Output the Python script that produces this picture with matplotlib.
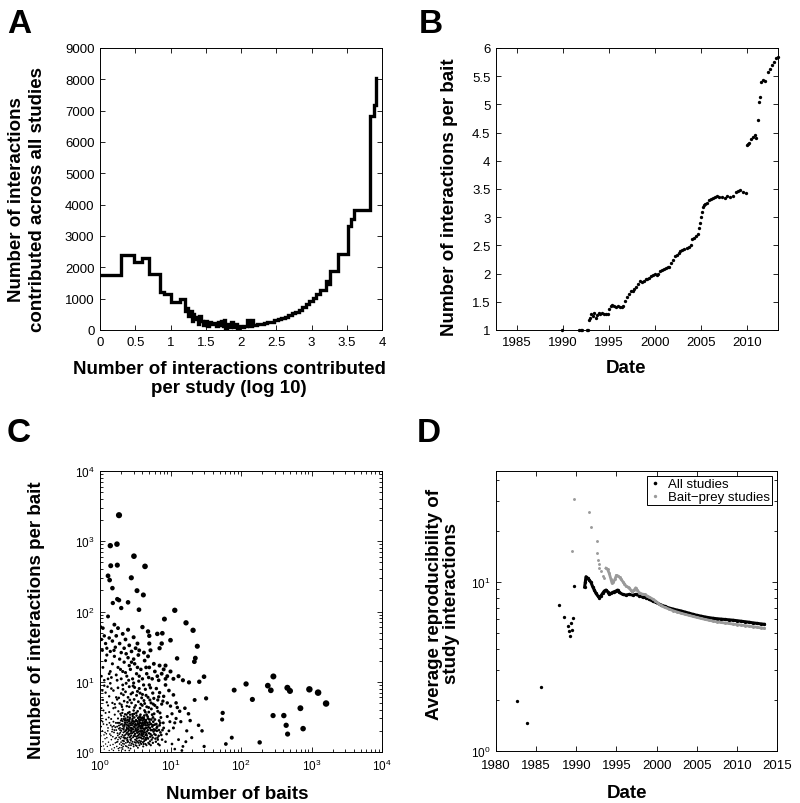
import numpy as np
import matplotlib
matplotlib.use("Agg")
import matplotlib.pyplot as plt
from matplotlib.ticker import LogLocator, NullFormatter, FixedLocator, FixedFormatter

plt.rcParams["font.family"] = "Liberation Sans"
plt.rcParams["mathtext.fontset"] = "custom"
plt.rcParams["mathtext.rm"] = "Liberation Sans"
plt.rcParams["mathtext.it"] = "Liberation Sans:italic"
plt.rcParams["mathtext.bf"] = "Liberation Sans:bold"

# --- A: interactions contributed vs study size (log10), staircase
a_logsize = [0, 0.301, 0.477, 0.602, 0.699, 0.845, 0.903, 1.0, 1.13, 1.2, 1.23, 1.255, 1.28, 1.30,
             1.32, 1.34, 1.36, 1.39, 1.41, 1.43, 1.46, 1.49, 1.52, 1.55, 1.58, 1.61, 1.64, 1.67,
             1.70, 1.72, 1.74, 1.76, 1.78, 1.80, 1.83, 1.86, 1.88, 1.91, 1.94, 1.97, 2.0, 2.04,
             2.08, 2.11, 2.15, 2.17, 2.22, 2.27, 2.32, 2.37, 2.42, 2.47, 2.52, 2.57, 2.62, 2.67,
             2.72, 2.77, 2.82, 2.87, 2.92, 2.97, 3.02, 3.07, 3.12, 3.21, 3.24, 3.26, 3.37, 3.52,
             3.56, 3.60, 3.83, 3.88, 3.92]
a_total = [1750, 2400, 2180, 2300, 1800, 1220, 1150, 880, 980, 620, 700, 450, 600, 300,
           500, 350, 420, 200, 450, 300, 150, 280, 120, 250, 180, 230, 130, 240,
           160, 300, 120, 320, 60, 200, 90, 260, 80, 180, 60, 120, 100, 120,
           310, 130, 320, 160, 180, 200, 220, 250, 270, 310, 340, 380, 420, 470,
           530, 590, 650, 730, 820, 920, 1030, 1150, 1270, 1550, 1480, 1890, 2420, 3330,
           3550, 3820, 6840, 7180, 8050]
a_xticks = [0, 0.5, 1, 1.5, 2, 2.5, 3, 3.5, 4]
a_xticklabels = ["0", "0.5", "1", "1.5", "2", "2.5", "3", "3.5", "4"]

# --- B: interactions per bait over time
b_date = [1989.9, 1991.8, 1991.95, 1992.1, 1992.6, 1992.75,
          1992.9, 1993.0, 1993.1, 1993.25, 1993.4, 1993.6, 1993.7, 1993.9, 1994.1, 1994.3,
          1994.5, 1994.7, 1994.9, 1995.0, 1995.2, 1995.4, 1995.6, 1995.8, 1996.0, 1996.2,
          1996.4, 1996.6, 1996.8, 1997.0, 1997.2, 1997.4, 1997.6, 1997.8, 1998.0, 1998.2,
          1998.4, 1998.6, 1998.8, 1999.0, 1999.2, 1999.4, 1999.6, 1999.8, 2000.0, 2000.2,
          2000.4, 2000.6, 2000.8, 2001.0, 2001.2, 2001.4, 2001.6, 2001.8, 2002.0, 2002.2,
          2002.4, 2002.6, 2002.8, 2003.0, 2003.2, 2003.5, 2003.7, 2003.9, 2004.1, 2004.3,
          2004.5, 2004.7, 2004.8, 2004.9, 2005.0, 2005.1, 2005.2, 2005.35, 2005.5, 2005.7,
          2005.9, 2006.1, 2006.3, 2006.5, 2006.8, 2007.0, 2007.3, 2007.6, 2007.9, 2008.2,
          2008.5, 2008.8, 2009.1, 2009.3, 2009.6, 2009.9,
          2010.0, 2010.15, 2010.3, 2010.5, 2010.7, 2010.9, 2011.05, 2011.2, 2011.35, 2011.45,
          2011.6, 2011.8, 2012.0, 2012.3, 2012.5, 2012.7, 2013.0, 2013.2, 2013.35]
b_ratio = [1.0, 1.0, 1.0, 1.0, 1.0, 1.0,
           1.17, 1.22, 1.28, 1.25, 1.30, 1.22, 1.27, 1.30, 1.29, 1.31,
           1.28, 1.29, 1.28, 1.37, 1.43, 1.44, 1.42, 1.40, 1.42, 1.41,
           1.40, 1.42, 1.52, 1.58, 1.63, 1.70, 1.70, 1.73, 1.77, 1.82,
           1.86, 1.85, 1.87, 1.90, 1.91, 1.93, 1.95, 1.97, 1.99, 1.98,
           2.00, 2.04, 2.07, 2.09, 2.10, 2.11, 2.12, 2.18, 2.24, 2.31,
           2.33, 2.36, 2.40, 2.42, 2.44, 2.46, 2.47, 2.50, 2.62, 2.64,
           2.67, 2.70, 2.80, 2.90, 3.00, 3.10, 3.18, 3.22, 3.24, 3.26,
           3.30, 3.32, 3.34, 3.36, 3.37, 3.36, 3.35, 3.34, 3.37, 3.36,
           3.38, 3.44, 3.46, 3.48, 3.45, 3.43,
           4.28, 4.30, 4.32, 4.38, 4.42, 4.45, 4.40, 4.72, 5.05, 5.14,
           5.40, 5.44, 5.42, 5.58, 5.62, 5.70, 5.76, 5.82, 5.84]
b_yticks = [1, 1.5, 2, 2.5, 3, 3.5, 4, 4.5, 5, 5.5, 6]
b_yticklabels = ["1", "1.5", "2", "2.5", "3", "3.5", "4", "4.5", "5", "5.5", "6"]

# --- C: baits per study vs interactions per bait (x, y pairs)
c_small = [
    (1.02, 1.05), (1.05, 1.2), (1.1, 1.4), (1.03, 1.7), (1.08, 2.0), (1.15, 1.1), (1.2, 1.3),
    (1.25, 1.6), (1.18, 1.9), (1.3, 2.2), (1.12, 2.5), (1.22, 2.9), (1.06, 3.3), (1.35, 1.05),
    (1.4, 1.25), (1.45, 1.5), (1.38, 1.8), (1.5, 2.1), (1.42, 2.4), (1.55, 2.7), (1.33, 3.1),
    (1.6, 1.15), (1.65, 1.35), (1.7, 1.6), (1.58, 1.9), (1.75, 2.3), (1.68, 2.6), (1.8, 3.0),
    (1.62, 3.4), (1.85, 1.05), (1.9, 1.3), (1.95, 1.55), (1.88, 1.8), (2.0, 2.0), (1.92, 2.2),
    (2.05, 2.5), (1.98, 2.8), (2.1, 1.1), (2.15, 1.45), (2.2, 1.7), (2.25, 1.95), (2.12, 2.35),
    (2.3, 2.6), (2.2, 3.2), (2.4, 1.2), (2.45, 1.5), (2.5, 1.8), (2.38, 2.1), (2.55, 2.4),
    (2.6, 1.05), (2.65, 1.35), (2.7, 1.65), (2.75, 2.0), (2.62, 2.75), (1.01, 1.5), (1.04, 2.3),
    (1.09, 2.7), (1.14, 1.75), (1.27, 1.2), (1.29, 2.0), (1.47, 1.1), (1.52, 1.65), (1.57, 2.35),
    (1.73, 1.2), (1.77, 1.85), (1.83, 2.6), (2.02, 1.25), (2.08, 1.75), (2.18, 2.2), (2.33, 1.35),
    (2.42, 1.9), (2.48, 2.9), (2.58, 1.25), (2.68, 2.2), (1.2, 3.6), (1.44, 2.95), (1.7, 2.05),
    (1.95, 3.5), (2.28, 1.05), (2.52, 1.15),
    (1.8, 1.5), (1.9, 2.6), (2.0, 3.3), (2.1, 4.0), (2.2, 1.3), (2.3, 2.0), (2.4, 2.8),
    (2.5, 3.6), (2.6, 4.4), (2.7, 1.5), (2.8, 2.2), (2.9, 3.0), (3.0, 1.2), (3.0, 3.9),
    (3.1, 1.8), (3.2, 2.5), (3.3, 3.3), (3.4, 1.4), (3.5, 2.1), (3.6, 2.9), (3.7, 4.2),
    (3.8, 1.6), (3.9, 2.4), (4.0, 3.1), (4.1, 1.2), (4.2, 1.9), (4.3, 2.7), (4.4, 3.7),
    (4.5, 1.5), (4.6, 2.2), (4.8, 3.0), (4.9, 4.3), (5.0, 1.3), (5.2, 1.8), (5.3, 2.5),
    (5.5, 3.4), (5.6, 1.6), (5.8, 2.1), (6.0, 2.9), (6.2, 1.4), (6.4, 2.0), (6.6, 3.8),
    (6.8, 1.7), (7.0, 2.4), (7.3, 3.1), (7.6, 1.5), (8.0, 2.2), (2.05, 1.15), (2.15, 1.9),
    (2.35, 2.45), (2.45, 1.6), (2.55, 2.05), (2.65, 3.1), (2.75, 1.25), (2.85, 1.85),
    (2.95, 2.55), (3.05, 3.5), (3.15, 1.5), (3.25, 2.0), (3.35, 2.75), (3.45, 1.15),
    (3.55, 1.75), (3.65, 2.35), (3.75, 3.4), (3.85, 1.3), (3.95, 2.0), (4.05, 2.6),
    (4.15, 1.55), (4.25, 3.3), (4.35, 2.15), (4.55, 1.8), (4.7, 2.6), (4.85, 1.35),
    (5.1, 2.2), (5.4, 1.5), (5.7, 2.7), (5.9, 1.8), (6.3, 2.5), (6.7, 1.3), (7.2, 1.9),
    (2.25, 2.65), (2.6, 1.8), (2.9, 1.4), (3.1, 2.25), (3.4, 1.9), (3.7, 2.6), (4.0, 1.7),
    (4.4, 2.4), (4.7, 1.6), (5.0, 2.9), (2.0, 1.65), (2.4, 2.25), (2.8, 2.65), (3.2, 1.25),
    (3.6, 1.45), (4.2, 2.9), (2.3, 3.0), (2.7, 2.4), (3.3, 1.65), (3.9, 1.85),
    (1.55, 1.05), (1.78, 1.4), (2.22, 1.55), (2.48, 1.38), (2.72, 1.85), (2.95, 2.1),
    (3.12, 2.7), (3.28, 1.45), (3.48, 2.45), (3.62, 1.25), (3.82, 2.15), (4.02, 2.35),
    (4.22, 1.42), (4.48, 2.85), (4.62, 1.95), (4.95, 2.45), (5.15, 1.65), (5.45, 2.05),
    (5.65, 3.1), (6.1, 1.55), (6.5, 2.3), (6.9, 2.8), (7.4, 1.75), (7.9, 2.6), (8.5, 1.4),
    (9.0, 3.2), (9.5, 2.0), (2.18, 2.95), (2.38, 3.4), (2.62, 3.7), (2.88, 3.45), (3.08, 4.3),
    (3.42, 3.8), (3.72, 3.1), (3.98, 4.6), (4.28, 3.9), (4.58, 3.4), (4.92, 3.7), (5.35, 4.1),
    (5.85, 3.5), (6.45, 4.3), (7.1, 3.6), (1.62, 4.8), (1.85, 5.9), (2.15, 6.5), (2.45, 5.1),
    (2.75, 6.7), (3.05, 5.6), (3.4, 7.3), (3.9, 5.9), (4.5, 6.4), (5.1, 5.5), (5.7, 4.8),
    (6.8, 6.1), (2.12, 7.8), (2.55, 10.5), (2.95, 8.7), (3.55, 10.2), (4.15, 9.0), (4.9, 11.5),
    (1.35, 13), (1.75, 10.5), (2.3, 13.5), (2.8, 19), (3.6, 12), (4.5, 16), (5.8, 18),
    (6.8, 10.5), (8.5, 11), (1.58, 28), (2.35, 25), (3.0, 21), (1.95, 15), (1.15, 10.5),
    (1.45, 11.5), (1.08, 7.5), (1.28, 8.5), (1.02, 5.5), (1.12, 3.9), (1.35, 3.7), (1.55, 4.2),
    (1.82, 3.8), (2.02, 4.7), (1.05, 2.8), (1.25, 2.45), (1.48, 1.95), (1.65, 2.25),
    (1.85, 2.15), (2.08, 1.45), (2.28, 1.75), (2.52, 2.15), (2.78, 1.55), (3.02, 1.7),
    (3.22, 2.15), (3.52, 1.6), (3.78, 1.95), (4.12, 2.15), (4.42, 1.3), (4.78, 2.05),
    (5.25, 1.25), (5.6, 2.4), (6.05, 2.05), (6.55, 1.6), (7.0, 1.25), (7.7, 2.05), (8.8, 1.8),
    (9.8, 2.7), (10.5, 3.5), (11.5, 2.6),
    (1.82, 1.12), (1.87, 1.62), (1.93, 2.05), (1.97, 2.45), (2.03, 2.95), (2.07, 3.6),
    (2.11, 1.32), (2.14, 1.62), (2.17, 2.08), (2.21, 2.48), (2.24, 2.85), (2.27, 3.45),
    (2.31, 1.22), (2.34, 1.55), (2.37, 1.82), (2.41, 2.15), (2.44, 2.62), (2.47, 3.15),
    (2.51, 1.42), (2.54, 1.72), (2.57, 2.28), (2.61, 2.55), (2.64, 2.95), (2.67, 3.4),
    (2.71, 1.12), (2.74, 1.45), (2.77, 1.72), (2.81, 2.05), (2.84, 2.42), (2.87, 2.85),
    (2.91, 3.25), (2.94, 1.62), (2.97, 1.92), (3.01, 2.3), (3.04, 2.7), (3.07, 3.1),
    (3.11, 1.38), (3.14, 1.68), (3.17, 2.05), (3.21, 2.38), (3.24, 2.85), (3.27, 3.6),
    (3.31, 1.22), (3.34, 1.55), (3.37, 1.88), (3.41, 2.22), (3.44, 2.58), (3.47, 3.05),
    (3.51, 1.35), (3.54, 1.95), (3.57, 2.5), (3.61, 2.75), (3.64, 3.2), (3.67, 1.62),
    (3.71, 1.98), (3.74, 2.2), (3.77, 2.85), (3.81, 1.42), (3.84, 1.75), (3.87, 2.55),
    (3.91, 3.0), (3.94, 1.55), (3.97, 2.2), (4.01, 2.8), (4.06, 1.38), (4.09, 1.8),
    (4.13, 2.45), (4.18, 3.05), (4.21, 1.65), (4.26, 2.05), (4.31, 2.55), (4.36, 1.48),
    (4.41, 1.75), (4.46, 2.2), (4.51, 2.65), (4.56, 1.25), (4.61, 1.72), (4.66, 2.4),
    (4.73, 3.2), (4.81, 1.55), (4.88, 2.25), (4.96, 1.85), (5.05, 2.65), (5.12, 1.42),
    (5.22, 2.05), (5.32, 2.9), (5.42, 1.72), (5.52, 2.3), (5.62, 1.35), (5.75, 1.95),
    (5.95, 2.45), (6.15, 1.75), (6.35, 2.2), (6.6, 1.5), (6.85, 2.05), (7.15, 2.6),
    (1.12, 1.22), (1.18, 1.55), (1.23, 1.82), (1.32, 1.38), (1.36, 2.6), (1.43, 1.72),
    (1.49, 2.28), (1.53, 1.28), (1.6, 2.05), (1.64, 1.55), (1.72, 1.38), (1.76, 2.6),
    (1.79, 1.72), (1.86, 2.38), (1.91, 1.15), (1.94, 1.88), (1.99, 1.38), (2.06, 2.15),
    (2.09, 2.75), (2.13, 1.2), (2.19, 1.42), (2.23, 2.35), (2.26, 1.6), (2.32, 2.82),
    (2.36, 2.05), (2.43, 1.45), (2.46, 2.4), (2.53, 1.95), (2.56, 2.75), (2.63, 1.62),
    (2.66, 2.05), (2.73, 2.55), (2.79, 1.95), (2.83, 1.32), (2.89, 2.15), (2.93, 2.75),
    (2.98, 1.28), (3.03, 1.95), (3.09, 2.45), (3.16, 1.82), (3.23, 1.35), (3.29, 2.4),
    (3.36, 2.05), (3.43, 1.7), (3.53, 2.3), (3.63, 1.82), (3.73, 1.35), (3.83, 2.35),
    (3.93, 1.72), (4.03, 1.95), (4.16, 1.3), (4.33, 1.9), (4.47, 1.58),
    (1.05, 4.2), (1.1, 5.5), (1.2, 7.0), (1.15, 8.8), (1.3, 4.6), (1.35, 6.2), (1.4, 9.5),
    (1.5, 5.0), (1.55, 7.5), (1.65, 4.3), (1.7, 6.0), (1.8, 8.2), (1.9, 4.9), (2.0, 6.8),
    (2.1, 9.0), (2.2, 5.3), (2.3, 7.2), (2.4, 4.5), (2.5, 6.0), (2.6, 8.5), (2.8, 5.0),
    (2.9, 7.0), (3.0, 9.6), (3.2, 4.6), (3.3, 6.4), (3.5, 5.2), (3.6, 8.0), (3.8, 4.8),
    (4.0, 6.6), (4.2, 5.4), (4.4, 7.8), (4.6, 4.4), (4.8, 6.0), (5.0, 9.0), (5.3, 5.0),
    (5.6, 6.9), (6.0, 4.6), (6.3, 8.0), (6.6, 5.5), (7.0, 7.0), (7.5, 4.8), (8.0, 6.2),
    (8.5, 9.0), (9.0, 5.0), (9.5, 7.5), (10.0, 4.5), (11.0, 6.5), (12.0, 5.0), (1.25, 5.1),
    (1.45, 8.0), (1.75, 5.6), (2.05, 4.4), (2.35, 9.5), (2.65, 5.5), (3.1, 8.3), (3.7, 6.9),
    (4.3, 4.9), (5.2, 8.2), (5.8, 5.8), (7.8, 5.3),
    (1.05, 12), (1.1, 16), (1.2, 20), (1.3, 11), (1.4, 14), (1.5, 18), (1.6, 23), (1.7, 12.5),
    (1.8, 16), (2.0, 11), (2.1, 14), (2.2, 19), (2.4, 12), (2.5, 22), (2.7, 15), (2.9, 11),
    (3.1, 18), (3.3, 13), (3.5, 24), (3.8, 15), (4.0, 11), (4.3, 20), (4.6, 13), (5.0, 16),
    (5.5, 11), (6.0, 14), (6.5, 12), (7.0, 17), (7.5, 13), (8.0, 15), (9.0, 12), (10.0, 14),
    (11.0, 11), (13.0, 12), (15.0, 10.5), (1.25, 24), (1.9, 21), (2.6, 17), (3.4, 16), (4.8, 23),
    (1.02, 60), (1.05, 40), (1.08, 28), (1.1, 58), (1.15, 45), (1.2, 35), (1.25, 30), (1.3, 85),
    (1.35, 42), (1.4, 27), (1.45, 52), (1.5, 38), (1.6, 65), (1.65, 31), (1.7, 45), (1.8, 58),
    (1.9, 35), (2.0, 26), (2.1, 48), (2.2, 30), (2.3, 40), (2.5, 55), (2.6, 33), (2.8, 27),
    (3.0, 43), (3.2, 30), (3.4, 35), (3.6, 28), (4.0, 60), (4.2, 26), (4.8, 52), (5.0, 45),
    (5.0, 35), (5.2, 28), (6.5, 48), (7.0, 30), (7.5, 35), (8.5, 17),
    (10.5, 1.3), (11, 2.2), (12, 3.0), (13, 1.5), (14, 2.7), (15, 1.2), (16, 4.2), (17, 2.0),
    (18, 3.5), (20, 1.6), (22, 5.5), (25, 2.4), (28, 2.0), (30, 1.2), (14.5, 1.05), (13.5, 3.8),
    (19, 2.8), (11.5, 1.1), (12.5, 4.3), (16.5, 1.4),
]
c_large = [
    (1.86, 2350), (1.40, 865), (1.74, 910), (3.03, 613), (1.42, 448), (1.76, 457), (4.35, 439),
    (1.30, 322), (1.37, 280), (2.78, 302), (1.50, 215), (3.35, 198), (4.12, 172), (1.76, 150),
    (1.86, 145), (2.50, 135), (1.52, 132), (3.57, 106), (11.5, 104), (2.0, 112), (8.2, 78),
    (16.6, 69), (20.9, 54), (24, 32), (22.5, 21.7), (21.8, 19.3), (10, 39), (7.66, 49),
    (12.4, 21.5), (18.3, 9.8), (25.6, 10), (29.9, 11.8), (32, 5.8), (118, 9.3), (80, 7.6),
    (55, 3.6), (54, 2.9), (74, 1.6), (61, 1.3), (145, 5.6), (288, 11.9), (240, 8.8),
    (265, 7.55), (455, 8.2), (495, 7.4), (933, 7.8), (1240, 7.0), (1610, 4.9), (696, 4.2),
    (285, 3.3), (405, 3.3), (437, 2.4), (760, 2.15), (458, 1.8), (184, 1.37),
]

# --- D: average reproducibility over time
d_all_early_x = [1982.57, 1983.82, 1985.56, 1987.89, 1988.43, 1989.0, 1989.05, 1989.17,
                 1989.38, 1989.42, 1989.55, 1989.67]
d_all_early_y = [1.98, 1.47, 2.4, 7.27, 6.2, 5.5, 5.13, 4.75, 5.66, 5.17, 6.06, 9.38]
d_all_x = [1991.04, 1991.12, 1991.21, 1991.42, 1991.62, 1991.83, 1992.04, 1992.25, 1992.45,
           1992.66, 1992.87, 1993.08, 1993.28, 1993.49, 1993.70, 1993.91, 1994.11, 1994.32,
           1994.53, 1994.74, 1994.94, 1995.15, 1995.36, 1995.77, 1996.19, 1996.60, 1997.02,
           1997.43, 1997.85, 1998.26, 1998.68, 1999.10, 1999.51, 1999.93, 2000.5, 2001.0,
           2001.5, 2002.0, 2002.5, 2003.0, 2003.5, 2004.0, 2004.5, 2005.0, 2005.5, 2006.0,
           2006.5, 2007.0, 2007.5, 2008.0, 2008.5, 2009.0, 2009.5, 2010.0, 2010.5, 2011.0,
           2011.5, 2012.0, 2012.5, 2013.0, 2013.4]
d_all_y = [9.29, 9.91, 10.7, 10.46, 10.2, 9.91, 9.34, 8.92, 8.53,
           8.26, 8.04, 8.26, 8.53, 8.80, 8.92, 8.72, 8.41, 8.53,
           8.64, 8.72, 8.80, 8.92, 8.64, 8.41, 8.33, 8.41, 8.33,
           8.41, 8.26, 8.10, 8.04, 7.86, 7.68, 7.54, 7.3, 7.15,
           7.0, 6.9, 6.8, 6.72, 6.62, 6.52, 6.42, 6.33, 6.26, 6.19,
           6.13, 6.08, 6.04, 6.01, 5.98, 5.95, 5.92, 5.88, 5.84, 5.80,
           5.76, 5.71, 5.67, 5.63, 5.60]
d_bp_early_x = [1989.5, 1989.67, 1991.58, 1991.79, 1992.54, 1992.62, 1992.7, 1992.8, 1992.87,
                1993.1, 1993.3, 1993.5]
d_bp_early_y = [15.1, 30.7, 25.7, 20.9, 17.3, 14.7, 13.4, 12.7, 12.0, 11.5, 10.8, 10.5]
d_bp_x = [1993.7, 1993.9, 1994.1, 1994.3, 1994.45, 1994.6, 1994.8, 1995.0, 1995.2, 1995.4,
          1995.6, 1995.8, 1996.0, 1996.2, 1996.4, 1996.6, 1996.8, 1997.0, 1997.2, 1997.4,
          1997.6, 1997.85, 1998.2, 1998.5, 1998.8, 1999.1, 1999.5, 1999.85, 2000.2, 2000.5,
          2001.0, 2001.5, 2002.0, 2002.5, 2003.0, 2003.5, 2004.0, 2004.5, 2005.0, 2005.5,
          2006.0, 2006.5, 2007.0, 2007.5, 2008.0, 2008.5, 2009.0, 2009.5, 2010.0, 2010.5,
          2011.0, 2011.5, 2012.0, 2012.5, 2013.0, 2013.4]
d_bp_y = [12.0, 11.8, 11.2, 10.4, 9.8, 9.9, 10.3, 10.9, 10.8, 10.6,
          10.3, 10.0, 9.7, 9.4, 9.3, 9.2, 8.9, 8.7, 8.9, 9.2,
          8.9, 8.6, 8.45, 8.4, 8.25, 8.1, 7.9, 7.7, 7.45, 7.25,
          7.05, 6.9, 6.75, 6.63, 6.52, 6.42, 6.33, 6.24, 6.15, 6.07,
          5.99, 5.92, 5.85, 5.79, 5.74, 5.70, 5.66, 5.62, 5.58, 5.54,
          5.50, 5.46, 5.42, 5.38, 5.33, 5.30]
d_labels = ["All studies", "Bait\u2212prey studies"]

W, H = 800, 804
fig = plt.figure(figsize=(W / 100, H / 100), dpi=100)


def box(x0, y0, x1, y1):
    # pixel box (top-left origin) -> figure fraction
    return [x0 / W, 1 - y1 / H, (x1 - x0) / W, (y1 - y0) / H]


def style(ax, size=9.5):
    ax.tick_params(which="both", direction="in", top=True, right=True, labelsize=size,
                   width=0.6, pad=4)
    ax.tick_params(which="major", length=3.5)
    ax.tick_params(which="minor", length=2)
    for s in ax.spines.values():
        s.set_linewidth(0.7)


lab = dict(fontsize=13.5, fontweight="bold")

# A
axA = fig.add_axes(box(100, 49, 382, 331))
axA.step(a_logsize, a_total, where="post", color="k", lw=2.4, solid_joinstyle="miter")
axA.set_xlim(0, 4)
axA.set_ylim(0, 9000)
axA.set_xticks(a_xticks)
axA.set_xticklabels(a_xticklabels)
axA.set_yticks(range(0, 9001, 1000))
style(axA)
fig.text(27 / W, 1 - 200 / H, "Number of interactions\ncontributed across all studies",
         rotation=90, ha="center", va="center", linespacing=1.3, **lab)
fig.text(229 / W, 1 - 393 / H, "Number of interactions contributed\nper study (log 10)",
         ha="center", va="baseline", linespacing=1.12, **lab)

# B
axB = fig.add_axes(box(496, 49, 778, 331))
axB.plot(b_date, b_ratio, "o", ms=2.4, mew=0, color="k", clip_on=False)
axB.set_xlim(1982.75, 2013.4)
axB.set_ylim(1, 6)
axB.set_xticks([1985, 1990, 1995, 2000, 2005, 2010])
axB.set_yticks(b_yticks)
axB.set_yticklabels(b_yticklabels)
style(axB)
fig.text(449 / W, 1 - 197 / H, "Number of interactions per bait", rotation=90,
         ha="center", va="center", **lab)
fig.text(626 / W, 1 - 373 / H, "Date", ha="center", va="baseline", **lab)

# C
axC = fig.add_axes(box(100, 472, 382, 753))
cx = np.array([p[0] for p in c_small + c_large])
cy = np.array([p[1] for p in c_small + c_large])
diam = 0.8 + 1.0 * np.log10(cx * cy)   # dot size grows with interactions in the study
axC.scatter(cx, cy, s=diam ** 2, color="k", linewidths=0)
axC.set_xscale("log")
axC.set_yscale("log")
axC.set_xlim(1, 1e4)
axC.set_ylim(1, 1e4)
for a in (axC.xaxis, axC.yaxis):
    a.set_major_locator(LogLocator(base=10, numticks=10))
    a.set_minor_locator(LogLocator(base=10, subs=np.arange(2, 10), numticks=20))
    a.set_minor_formatter(NullFormatter())
style(axC, 8.5)
fig.text(37 / W, 1 - 620 / H, "Number of interactions per bait", rotation=90,
         ha="center", va="center", **lab)
fig.text(237 / W, 1 - 799 / H, "Number of baits", ha="center", va="baseline", **lab)

# D
axD = fig.add_axes(box(496, 472, 777, 752))
axD.set_yscale("log")
axD.plot(d_all_early_x, d_all_early_y, "o", ms=2.4, mew=0, color="k")
axD.plot(d_all_x, d_all_y, "-o", lw=2.2, ms=2.4, mew=0, color="k")
axD.plot(d_bp_early_x, d_bp_early_y, "o", ms=2.1, mew=0, color="#9a9a9a")
axD.plot(d_bp_x, d_bp_y, "-o", lw=2.0, ms=2.1, mew=0, color="#9a9a9a")
axD.set_xlim(1980, 2015)
axD.set_ylim(1, 45)
axD.set_xticks(range(1980, 2016, 5))
axD.yaxis.set_major_locator(FixedLocator([1, 10]))
axD.yaxis.set_major_formatter(FixedFormatter([r"$10^{0}$", r"$10^{1}$"]))
axD.yaxis.set_minor_locator(LogLocator(base=10, subs=np.arange(2, 10), numticks=20))
axD.yaxis.set_minor_formatter(NullFormatter())
style(axD)
axD.tick_params(axis="y", labelsize=8.5)
axD.tick_params(axis="x", pad=6)
h1 = plt.Line2D([], [], ls="", marker="o", ms=2.6, mew=0, color="k")
h2 = plt.Line2D([], [], ls="", marker="o", ms=2.4, mew=0, color="#9a9a9a")
leg = axD.legend([h1, h2], d_labels, loc="upper right", fontsize=9.5, frameon=True,
                 fancybox=False, edgecolor="k", framealpha=1, handlelength=0.9,
                 handletextpad=0.5, borderpad=0.15, labelspacing=0.05, borderaxespad=0.4)
leg.get_frame().set_linewidth(0.7)
fig.text(443 / W, 1 - 604 / H, "Average reproducibility of\nstudy interactions", rotation=90,
         ha="center", va="center", linespacing=1.05, **lab)
fig.text(627 / W, 1 - 798 / H, "Date", ha="center", va="baseline", **lab)

# panel letters
for letter, x, y in [("A", 7, 33), ("B", 419, 33), ("C", 7, 442), ("D", 417, 442)]:
    fig.text(x / W, 1 - y / H, letter, fontsize=24, fontweight="bold", ha="left", va="baseline")

fig.savefig("out.png", dpi=100)
